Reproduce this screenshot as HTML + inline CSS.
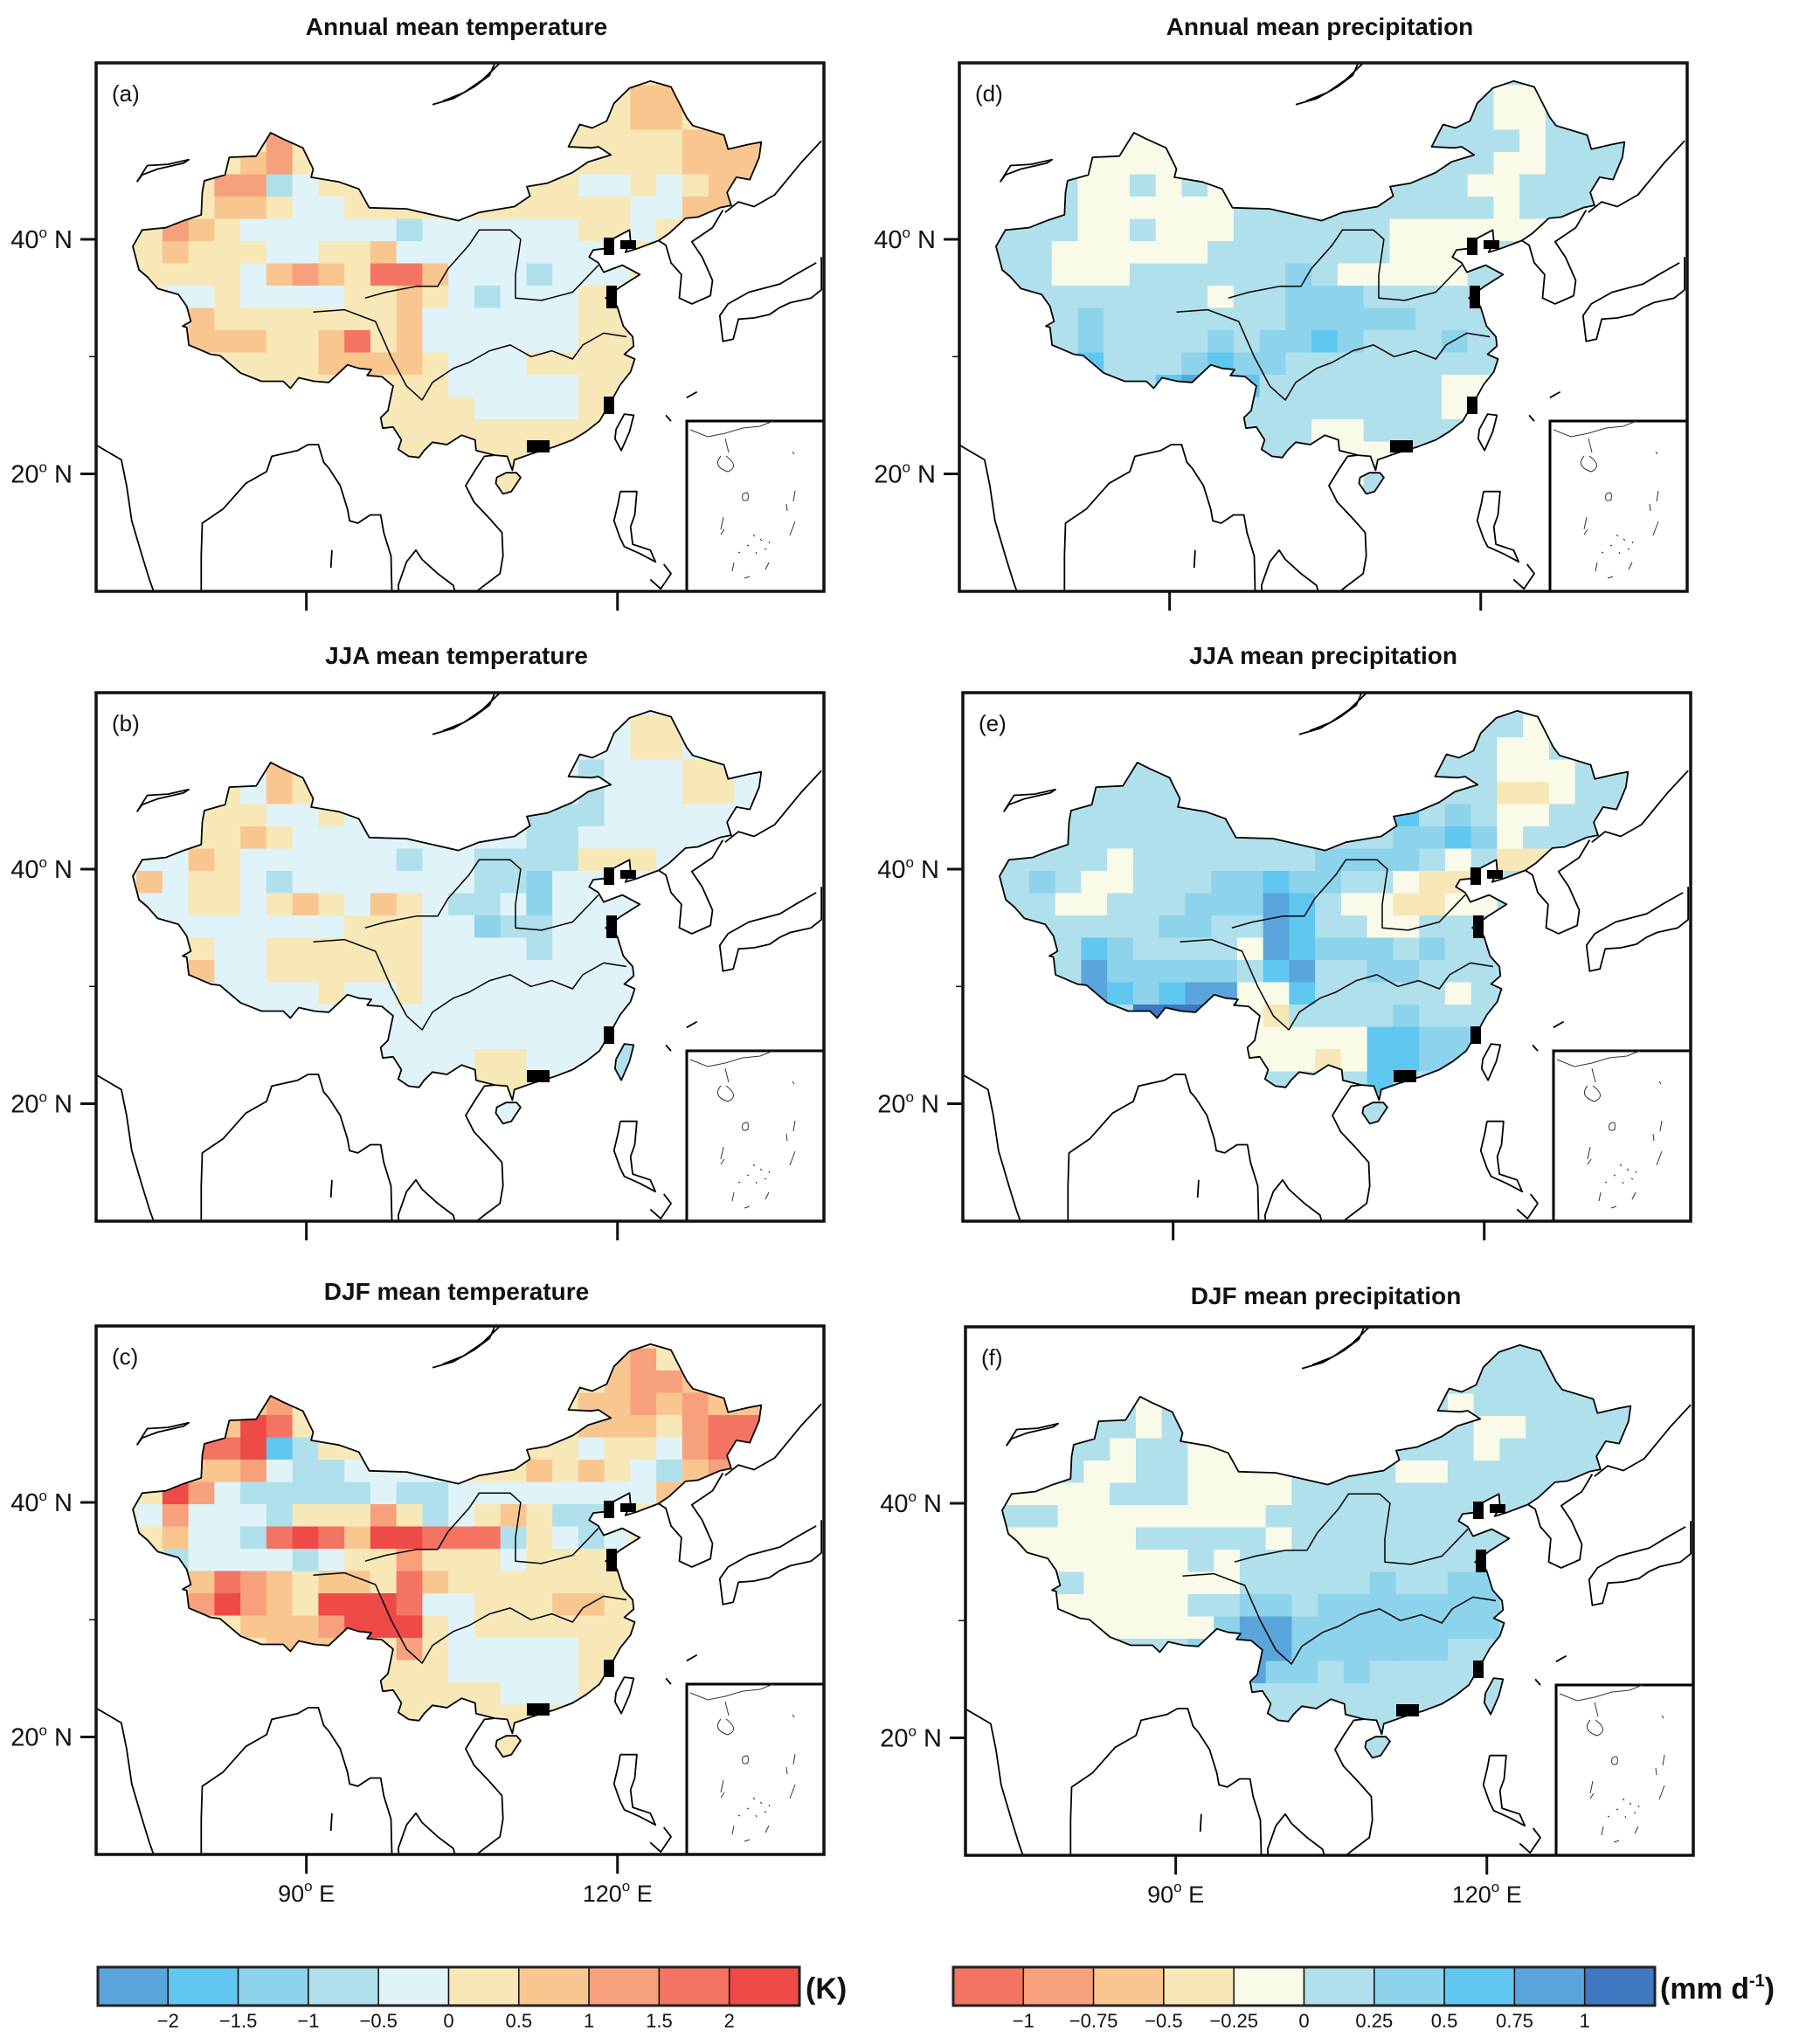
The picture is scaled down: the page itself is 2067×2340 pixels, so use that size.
<!DOCTYPE html>
<html><head><meta charset="utf-8"><title>China temperature and precipitation maps</title>
<style>
html,body{margin:0;padding:0;background:#fff;}
svg{display:block;}
text{font-family:"Liberation Sans",Arial,sans-serif;fill:#111;}
</style></head>
<body>
<svg id="fig" width="2067" height="2340" viewBox="0 0 2067 2340" xmlns="http://www.w3.org/2000/svg">
<defs><clipPath id="chinaClip" clipPathUnits="userSpaceOnUse"><path id="chinaClipPath" d=""/></clipPath>
<clipPath id="frameClip" clipPathUnits="userSpaceOnUse"><rect x="0" y="0" width="833" height="605"/></clipPath></defs>
</svg>
<script>
// ---- data ----
const tempColors = ["#5aa5dc","#60c8f0","#8dd3ec","#b0e0ec","#e0f3f8","#f8e8b8","#f9c68f","#f7a07c","#f47463","#ee4a48"];
const precipColors = ["#f47463","#f7a07c","#f9c68f","#f8e8b8","#fafae8","#b0e0ec","#8dd3ec","#60c8f0","#5aa5dc","#3f78c0"];
const tempTicks = ["−2","−1.5","−1","−0.5","0","0.5","1","1.5","2"];
const precipTicks = ["−1","−0.75","−0.5","−0.25","0","0.25","0.5","0.75","1"];
const panelTitles = ["Annual mean temperature","JJA mean temperature","DJF mean temperature","Annual mean precipitation","JJA mean precipitation","DJF mean precipitation"];
const panelLetters = ["(a)","(b)","(c)","(d)","(e)","(f)"];
const lonTicks = [90,120];
const latTicks = [40,20];
// grid class strings (rows top->bottom, 28 columns, 2.5 deg cells), digit = colour class
const gridA = [
"5555555 5555555 5555555 5555555","5555555 5555555 5555555 6655555","5555555 5555555 5555555 6655555",
"5555555 7555555 5555555 5566655","5555556 7555555 5555555 5566655","5555577 3455555 5555544 5456655",
"5555566 5445555 5555555 4466555","5557654 4444434 4444455 4555555","5556555 4455644 4444445 5555555",
"5555554 6765886 4443444 5555555","5554454 4445565 4344455 5555555","5555655 5555564 4444455 5555555",
"5555666 5568564 4444455 5555555","5555555 5566665 4445555 5555555","5555555 5555555 4444455 5555555",
"5555555 5555555 5444455 5555555","5555555 5555555 5555555 5555555","5555555 5555555 5555555 5555555",
"5555555 5555555 5555555 5555555","5555555 5555555 5555555 5555555","5555555 5555555 5555555 5555555"];
const gridB = [
"4444444 4444444 4444444 4444444","4444444 4444444 4444444 5544444","4444444 4444444 4444444 5544444",
"4444444 6544444 4444434 4455444","4444454 6544444 4444434 4455444","4444555 4454444 4443334 4444444",
"4444556 5444444 4443344 4444444","4444654 4444434 4333355 5444444","4464554 3444444 4332444 4444444",
"4444554 5654654 3342444 4444444","4444444 4445554 4233444 4444444","4444544 5555554 4443444 4444444",
"4444644 5555554 4444444 4444444","4444444 4454454 4444444 4444444","4444444 4444444 4444444 4444444",
"4444444 4444444 4444444 4444444","4444444 4444444 4554444 4444444","4444444 4444444 4554444 4444444",
"4444444 4444444 4444444 4444444","4444444 4444444 4444444 4444444","4444444 4444444 4444444 4444444"];
const gridC = [
"5555555 5555555 5555555 5555555","5555555 5555555 5555556 7565555","5555555 5555555 5555556 7765555",
"5555556 7555555 5555566 7676655","5555569 8555555 5555566 6578855","5555889 1355555 5555545 5478855",
"5555667 4334444 5556565 4367555","5559743 3333433 4444444 4655555","5547444 3555753 4565334 5555555",
"5556443 8986998 8835434 5555555","5553444 4345575 5545555 5555555","5555687 6566586 5555555 5555555",
"5555797 6599984 4555665 5555555","5555556 6679995 4555555 5555555","5555555 6665575 4444455 5555555",
"5555555 5555555 4444455 5555555","5555555 5555555 5544455 5555555","5555555 5555555 5555555 5555555",
"5555555 5555555 5555555 5555555","5555555 5555555 5555555 5555555","5555555 5555555 5555555 5555555"];
const gridD = [
"5555555 5555555 5555555 5555555","5555555 5555555 5555555 4455555","5555555 5555555 5555555 4455555",
"5555554 4455555 5555555 5455555","5555544 4445555 5555555 4455555","5555544 5454555 5555554 4555555",
"5555544 4444555 5555555 4555555","5555544 5444555 5554444 4455555","5555444 4445555 5554444 5555555",
"5555444 5555556 5444445 5555555","5555555 5554556 6655555 5555555","5555565 5555556 6666555 5555555",
"5555565 5556566 7655565 5555555","5555575 5567665 5555555 5555555","5555555 5788755 5555544 5555555",
"5555555 5555555 5555544 5555555","5555555 5555555 4455555 5555555","5555555 5555555 4445555 5555555",
"5555555 5555555 5455555 5555555","5555555 5555555 5555555 5555555","5555555 5555555 5555555 5555555"];
const gridE = [
"5555555 5555555 5555555 5555555","5555555 5555555 5555555 5455555","5555555 5555555 5555555 4455555",
"5555555 5555555 5555555 4445555","5555555 5555555 5555555 3345555","5555555 5555555 5557565 4455555",
"5555555 5555555 5556676 4555555","5555554 5555555 6666545 3345555","5556544 5556676 6554335 5555555",
"5555445 5566687 5443344 5555555","5555555 5665587 5544555 5555555","5555576 5555487 6665655 5555555",
"5555586 6666578 5566555 5555555","5555587 6788447 5555545 5555555","5555555 9995435 5556555 5555555",
"5555555 5555444 4477665 5555555","5555555 5555444 3477665 5555555","5555555 5555555 5575555 5555555",
"5555555 5555555 5555555 5555555","5555555 5555555 5555555 5555555","5555555 5555555 5555555 5555555"];
const gridF = [
"5555555 5555555 5555555 5555555","5555555 5555555 5555555 5555555","5555555 5555555 5555555 5555555",
"5555555 4555555 5555545 5555555","5555555 4555555 5555554 4555555","5555554 5544555 5555554 5555555",
"5555544 5544445 5554455 5555555","5544445 5544445 5555555 5555555","5555444 4444455 5555555 5555555",
"5544444 5555545 5555555 5555555","5544444 4454555 5555555 5555555","5555544 4444555 5565566 5555555",
"5554444 4455665 6666666 5555555","5555444 4446886 6666666 5555555","5555555 5569886 6666655 5555555",
"5555555 5555866 5655555 5555555","5555555 5555555 5555555 5555555","5555555 5555555 5555555 5555555",
"5555555 5555555 5555555 5555555","5555555 5555555 5555555 5555555","5555555 5555555 5555555 5555555"];

// ---- geography (lon, lat) ----
const china = [[73.6,39.4],[74.5,40.8],[76.8,41.0],[78.5,41.6],[80.2,42.1],[80.3,44.0],[80.5,45.0],[82.5,45.5],[82.9,47.0],[85.5,47.1],[86.9,49.1],[88.0,48.6],[90.0,47.8],[91.0,46.0],[90.8,45.3],[93.5,44.9],[95.4,44.3],[96.4,42.7],[100.0,42.6],[105.0,41.6],[107.0,42.3],[110.4,42.8],[111.9,43.7],[111.6,44.5],[113.6,44.8],[116.0,45.7],[117.5,46.6],[119.7,47.2],[118.5,47.9],[117.8,47.8],[115.6,47.9],[116.7,49.8],[117.9,49.5],[119.3,50.1],[120.0,51.6],[121.5,52.9],[123.5,53.5],[125.5,53.0],[127.0,50.4],[127.6,49.7],[130.6,48.9],[131.0,47.7],[133.0,48.1],[134.2,48.3],[134.0,47.0],[133.1,45.1],[131.8,45.3],[130.9,44.0],[131.3,42.9],[130.2,42.7],[128.1,41.9],[126.9,41.8],[125.3,40.5],[124.3,39.9],[122.2,39.2],[121.1,38.9],[121.6,39.8],[121.5,40.8],[120.0,40.1],[119.0,39.2],[118.0,39.1],[117.6,38.5],[118.5,38.0],[119.0,37.2],[120.8,37.8],[122.5,37.0],[120.7,36.0],[119.2,35.0],[120.3,34.3],[120.9,32.6],[121.8,31.7],[121.9,30.9],[121.0,30.2],[122.0,29.8],[121.6,28.7],[120.6,27.6],[119.6,26.0],[118.6,24.5],[117.3,23.6],[116.0,22.9],[114.2,22.3],[113.4,22.1],[112.0,21.7],[110.4,21.2],[110.2,20.3],[109.7,21.5],[108.5,21.6],[106.7,22.0],[106.6,22.9],[105.3,23.3],[103.9,22.5],[102.5,22.7],[101.7,22.0],[101.2,21.4],[100.2,21.5],[99.2,22.1],[99.5,22.9],[98.7,24.0],[97.7,23.9],[97.5,24.8],[98.2,25.4],[98.7,27.5],[97.6,28.3],[96.2,28.4],[96.6,28.9],[95.4,29.0],[94.3,29.3],[92.5,27.8],[91.1,27.9],[89.6,28.2],[88.8,27.3],[88.1,27.9],[86.0,27.9],[84.0,28.6],[82.0,30.1],[81.1,30.2],[79.0,31.0],[78.8,32.5],[78.4,32.6],[79.2,33.0],[78.8,34.3],[78.0,35.3],[76.0,35.8],[75.0,36.8],[74.2,37.4]];
const hainan = [[108.6,19.2],[109.3,18.3],[110.1,18.5],[111.0,19.7],[110.6,20.1],[109.6,20.1],[108.7,19.7]];
const taiwan = [[120.1,23.0],[120.7,22.0],[121.5,23.6],[121.9,25.0],[121.0,25.1],[120.2,23.8]];
const otherLines = [
 [[102.5,51.5],[104.5,52.0],[106.5,53.0],[108.0,54.0],[108.6,55.2]],
 [[103.5,51.8],[105.5,52.5],[107.3,53.6],[109.2,55.2]],
 [[74.0,44.9],[75.0,46.3],[77.0,46.4],[79.0,46.8],[78.5,46.5],[76.0,46.0],[74.5,45.5],[74.0,44.9]],
 [[124.3,39.9],[125.0,39.5],[125.5,38.0],[126.5,37.0],[126.3,35.0],[127.5,34.5],[129.3,35.2],[129.5,36.5],[128.5,38.5],[127.5,39.8],[129.5,41.0],[130.5,42.5]],
 [[130.7,42.3],[132.0,43.2],[133.5,42.8],[135.5,43.8],[138.0,46.5],[140.0,48.4]],
 [[139.5,38.0],[137.5,37.0],[136.0,36.2],[133.0,35.5],[131.0,34.5],[130.2,33.5],[130.5,31.3],[131.5,31.5],[132.0,33.2],[133.5,33.3],[135.0,33.6],[136.0,34.2],[137.0,34.6],[139.0,35.0],[140.0,35.7],[140.0,38.5]],
 [[70.0,22.5],[72.5,21.2],[73.0,19.0],[73.5,16.0],[74.5,13.0],[75.2,11.0],[75.8,9.5]],
 [[80.2,9.5],[80.2,13.0],[80.3,15.8],[82.3,17.0],[84.5,19.2],[86.5,20.2],[87.0,21.5],[88.5,21.8],[89.5,22.0],[90.5,22.5],[91.5,22.5],[92.0,21.0],[92.5,20.5],[93.6,19.0],[94.3,17.0],[94.5,16.0],[95.3,15.8],[96.5,16.5],[97.5,16.5],[97.8,15.0],[98.5,13.0],[98.6,9.5]],
 [[99.3,9.5],[99.2,10.5],[100.0,12.5],[100.9,13.5],[101.5,12.7],[103.0,11.5],[104.5,10.5],[104.8,9.5]],
 [[105.6,9.5],[106.5,9.8],[107.5,10.5],[109.0,11.5],[109.3,13.0],[109.2,15.0],[108.0,16.2],[106.5,17.6],[105.7,19.0],[106.6,20.3],[107.5,21.5],[108.5,21.6]],
 [[92.7,12.0],[92.8,13.5]],
 [[120.6,18.5],[122.2,18.5],[122.0,16.5],[121.6,15.5],[121.8,14.0],[123.5,13.5],[124.0,12.5],[122.5,13.2],[121.0,13.8],[120.6,14.5],[120.0,16.0],[120.4,17.5],[120.6,18.5]],
 [[123.5,11.0],[124.5,10.2],[125.5,11.5],[124.8,12.3]],
 [[127.0,26.5],[128.0,27.0]],[[125.0,25.0],[125.5,24.5]]
];
const rivers = [
 [[96,35],[98,35.5],[101,36],[103,36],[104,37.5],[106,39.5],[107,40.8],[110,40.8],[111,40],[110.5,37],[110.5,35],[113,34.8],[116,35.5],[118.5,37.8]],
 [[91,33.8],[94,34],[97,33],[98.5,30],[100,27.5],[101.5,26.3],[102.5,27.8],[104.5,29],[106,29.5],[108,30.5],[110,31],[112,30],[114,30.5],[116,29.8],[117,31],[119,32],[121.2,31.7]]
];

// ---- layout ----
const SVGNS = "http://www.w3.org/2000/svg";
const svg = document.getElementById('fig');
const FW = 833, FH = 605;
const LON0 = 68.8, LONPX = 11.87, LAT0 = 55.05, LATPX = 13.425;
const GEO_DX = -15, TICK_DX = -11;
const CW = 29.75, CH = 25.5, COFF = -13.35;
function xLon(lon){ return (lon - LON0) * LONPX; }
function yLat(lat){ return (LAT0 - lat) * LATPX; }
function pathOf(pts, close){ return pts.map((p,i)=>(i?'L':'M')+(xLon(p[0])+GEO_DX).toFixed(1)+' '+yLat(p[1]).toFixed(1)).join(' ')+(close?' Z':''); }
function mk(tag, attrs, parent){ const e=document.createElementNS(SVGNS,tag); for(const k in attrs) e.setAttribute(k,attrs[k]); (parent||svg).appendChild(e); return e; }

const chinaD = pathOf(china,true)+' '+pathOf(hainan,true);
document.getElementById('chinaClipPath').setAttribute('d', chinaD);

const frames = [[110,72],[110,793],[110,1518],[1098,72],[1102,793],[1105,1519]];
const titleY = [40,760,1488,40,760,1493];
const grids = [gridA,gridB,gridC,gridD,gridE,gridF];

frames.forEach((f,pi)=>{
  const [fx,fy] = f;
  const palette = pi<3 ? tempColors : precipColors;
  const title = mk('text',{x:fx+FW/2-4,y:titleY[pi],'text-anchor':'middle','font-size':'28','font-weight':'bold'});
  
  
  title.textContent = panelTitles[pi];
  const g = mk('g',{transform:`translate(${fx},${fy})`});
  
  
  const cg = mk('g',{'clip-path':'url(#chinaClip)'},g);
  
  
  grids[pi].forEach((row,r)=>{
    const s=row.replace(/ /g,'');
    for(let c=0;c<s.length;c++){
      const k=parseInt(s[c],10);
      const rc=mk('rect',{x:(COFF+CW*c).toFixed(2),y:(CH*r).toFixed(2),width:(CW+0.6).toFixed(2),height:(CH+0.6).toFixed(2),fill:palette[k]},cg);
      
      
    }
  });
  const lg = mk('g',{'clip-path':'url(#frameClip)',fill:'none',stroke:'#000','stroke-width':'1.8','stroke-linejoin':'round'},g);
  
  
  mk('path',{d:chinaD},lg);
  mk('path',{d:pathOf(taiwan,true), fill:(pi===1||pi===5)?'#b0e0ec':'none'},lg);
  otherLines.forEach(l=>mk('path',{d:pathOf(l,false)},lg));
  rivers.forEach(l=>mk('path',{d:pathOf(l,false),'stroke-width':'1.5'},lg));
  [[581,200,12,20],[584,255,12,26],[581,382,12,20],[493,432,26,14],[600,203,18,10]].forEach(b=>{
    mk('rect',{x:b[0],y:b[1],width:b[2],height:b[3],fill:'#000',stroke:'none'},lg);
  });
  const ig = mk('g',{},g);
  
  
  mk('rect',{x:676,y:410,width:157,height:195,fill:'#fff',stroke:'#000','stroke-width':'3'},ig);
  mk('path',{d:'M680 420 L700 428 L720 424 L740 418 L760 416 L775 410 M720 430 L724 446 M715 450 q-10 12 8 18 q14 -6 -2 -18 M797 445 l2 3 M740 494 q8 -6 6 6 q-8 4 -6 -6 M718 520 l-3 14 M715 540 l4 -6 M800 490 l-2 12 M790 505 l1 8 M752 540 l2 2 M760 545 l2 2 M770 548 l1 2 M745 552 l2 1 M735 560 l2 1 M755 560 l1 2 M765 556 l2 1 M730 572 l-2 10 M770 572 l-4 8 M742 590 l6 -2 M800 525 l-6 16',fill:'none',stroke:'#333','stroke-width':'1'},ig);
  const fr = mk('rect',{x:0,y:0,width:FW,height:FH,fill:'none',stroke:'#111','stroke-width':'3.5'},g);
  
  
  const lt = mk('text',{x:18,y:44,'font-size':'26'},g);
  
  
  lt.textContent = panelLetters[pi];
  latTicks.forEach(lat=>{
    const y=yLat(lat);
    mk('line',{x1:-18,x2:0,y1:y,y2:y,stroke:'#111','stroke-width':'3'},g);
    const t=mk('text',{x:-27,y:y+10,'text-anchor':'end','font-size':'29'},g);
    
    
    t.innerHTML = lat+'<tspan font-size="17" dy="-12">o</tspan><tspan dy="12"> N</tspan>';
  });
  mk('line',{x1:-8,x2:0,y1:yLat(30),y2:yLat(30),stroke:'#111','stroke-width':'1.5'},g);
  lonTicks.forEach(lon=>{
    const x=xLon(lon)+TICK_DX;
    mk('line',{x1:x,x2:x,y1:FH,y2:FH+22,stroke:'#111','stroke-width':'3'},g);
    if(pi===2||pi===5){
      const t=mk('text',{x:x,y:FH+54,'text-anchor':'middle','font-size':'27'},g);
      
      
      t.innerHTML = lon+'<tspan font-size="17" dy="-12">o</tspan><tspan dy="12"> E</tspan>';
    }
  });
});

// ---- colorbars ----
function colorbar(x0, colors, ticks, unitHTML, unitX, name){
  const g = mk('g',{});
  
  
  const bw = 80.3, y0 = 2252, h = 44;
  colors.forEach((c,i)=>{
    const r=mk('rect',{x:x0+i*bw,y:y0,width:bw,height:h,fill:c,stroke:'#111','stroke-width':'1.5'},g);
    
    
  });
  mk('rect',{x:x0,y:y0,width:bw*colors.length,height:h,fill:'none',stroke:'#222','stroke-width':'3'},g);
  ticks.forEach((t,i)=>{
    const tx=mk('text',{x:x0+(i+1)*bw,y:2321,'text-anchor':'middle','font-size':'22'},g);
    
    
    tx.textContent=t;
  });
  const u=mk('text',{x:unitX,y:2288,'font-size':'34','font-weight':'bold'},g);
  
  
  u.innerHTML=unitHTML;
}
colorbar(112, tempColors, tempTicks, '(K)', 922, 'temperature-colorbar');
colorbar(1091, precipColors, precipTicks, '(mm d<tspan font-size="20" dy="-14">-1</tspan><tspan dy="14">)</tspan>', 1900, 'precipitation-colorbar');
</script>
</body></html>
